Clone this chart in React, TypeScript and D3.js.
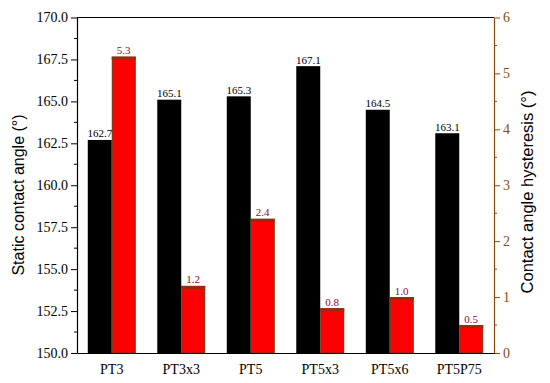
import React, { useEffect, useRef } from 'react';
import * as d3 from 'd3';

const categories = ['PT3', 'PT3x3', 'PT5', 'PT5x3', 'PT5x6', 'PT5P75'];
const staticAngle = [162.7, 165.1, 165.3, 167.1, 164.5, 163.1];
const hysteresis = [5.3, 1.2, 2.4, 0.8, 1.0, 0.5];
const leftTicks = [150, 152.5, 155, 157.5, 160, 162.5, 165, 167.5, 170];
const rightTicks = [0, 1, 2, 3, 4, 5, 6];

const BROWN = '#8B4A13';
const SERIF = "'Liberation Serif', 'Times New Roman', Times, serif";
const SANS = "'Liberation Sans', Arial, Helvetica, sans-serif";

const App: React.FC = () => {
  const svgRef = useRef<SVGSVGElement>(null);

  useEffect(() => {
    if (!svgRef.current) return;
    const svg = d3.select(svgRef.current);
    svg.selectAll('*').remove();

    const width = 550;
    const height = 383;
    const margin = { top: 17.5, right: 56, bottom: 30, left: 77 };
    const innerWidth = width - margin.left - margin.right;
    const innerHeight = height - margin.top - margin.bottom;

    const x = d3.scaleBand<string>().domain(categories).range([0, innerWidth]).paddingInner(0.31).paddingOuter(0.155);
    const sub = d3.scaleBand<string>().domain(['a', 'h']).range([0, x.bandwidth()]);
    const yL = d3.scaleLinear().domain([150, 170]).range([innerHeight, 0]);
    const yR = d3.scaleLinear().domain([0, 6]).range([innerHeight, 0]);

    const g = svg.append('g').attr('transform', `translate(${margin.left},${margin.top})`);

    // black bars (static contact angle)
    g.selectAll('rect.static')
      .data(categories)
      .join('rect')
      .attr('class', 'static')
      .attr('x', d => (x(d) ?? 0) + (sub('a') ?? 0))
      .attr('y', (d, i) => yL(staticAngle[i]))
      .attr('width', sub.bandwidth())
      .attr('height', (d, i) => innerHeight - yL(staticAngle[i]))
      .attr('fill', '#000');

    // red bars (hysteresis)
    g.selectAll('rect.hyst')
      .data(categories)
      .join('rect')
      .attr('class', 'hyst')
      .attr('x', d => (x(d) ?? 0) + (sub('h') ?? 0) + 0.5)
      .attr('y', (d, i) => yR(hysteresis[i]) + 0.5)
      .attr('width', sub.bandwidth() - 1)
      .attr('height', (d, i) => innerHeight - yR(hysteresis[i]) - 0.5)
      .attr('fill', '#ff0000')
      .attr('stroke', '#6e3010')
      .attr('stroke-width', 1);

    // darker top edge on red bars
    g.selectAll('rect.strip')
      .data(categories)
      .join('rect')
      .attr('class', 'strip')
      .attr('x', d => (x(d) ?? 0) + (sub('h') ?? 0))
      .attr('y', (d, i) => yR(hysteresis[i]))
      .attr('width', sub.bandwidth())
      .attr('height', 3)
      .attr('fill', '#9a2a0a');

    // value labels
    g.selectAll('text.vs')
      .data(categories)
      .join('text')
      .attr('class', 'vs')
      .attr('x', d => (x(d) ?? 0) + (sub('a') ?? 0) + sub.bandwidth() / 2)
      .attr('y', (d, i) => yL(staticAngle[i]) - 2.5)
      .attr('text-anchor', 'middle')
      .style('font-family', SERIF)
      .style('font-size', '11px')
      .attr('fill', '#000')
      .text((d, i) => staticAngle[i].toFixed(1));

    g.selectAll('text.vh')
      .data(categories)
      .join('text')
      .attr('class', 'vh')
      .attr('x', d => (x(d) ?? 0) + (sub('h') ?? 0) + sub.bandwidth() / 2)
      .attr('y', (d, i) => yR(hysteresis[i]) - 2.5)
      .attr('text-anchor', 'middle')
      .style('font-family', SERIF)
      .style('font-size', '11px')
      .attr('fill', '#8a0a2a')
      .text((d, i) => hysteresis[i].toFixed(1));

    // left axis
    const leftMinor = d3.range(151.25, 170, 2.5);
    const left = g.append('g');
    left.call(
      d3.axisLeft(yL).tickValues(leftTicks).tickSize(6).tickSizeOuter(0).tickFormat(d => (d as number).toFixed(1))
    );
    left.attr('font-family', null).attr('font-size', null);
    left.selectAll('text').style('font-family', SERIF).style('font-size', '14px').attr('fill', '#000').attr('x', -9);
    left.select('.domain').attr('stroke', '#000').attr('stroke-width', 1.2);
    left.selectAll('.tick line').attr('stroke', '#000');
    leftMinor.forEach(v => {
      left.append('line').attr('x1', -3).attr('x2', 0).attr('y1', yL(v)).attr('y2', yL(v)).attr('stroke', '#000');
    });

    // right axis
    const rightMinor = d3.range(0.5, 6, 1);
    const right = g.append('g').attr('transform', `translate(${innerWidth},0)`);
    right.call(d3.axisRight(yR).tickValues(rightTicks).tickSize(6).tickSizeOuter(0).tickFormat(d3.format('d')));
    right.attr('font-family', null).attr('font-size', null);
    right.selectAll('text').style('font-family', SERIF).style('font-size', '14px').attr('fill', BROWN).attr('x', 9);
    right.select('.domain').attr('stroke', BROWN).attr('stroke-width', 1.2);
    right.selectAll('.tick line').attr('stroke', BROWN);
    rightMinor.forEach(v => {
      right.append('line').attr('x1', 0).attr('x2', 3).attr('y1', yR(v)).attr('y2', yR(v)).attr('stroke', BROWN);
    });

    // bottom axis
    const bottom = g.append('g').attr('transform', `translate(0,${innerHeight})`);
    bottom.call(d3.axisBottom(x).tickSize(0).tickSizeOuter(0));
    bottom.attr('font-family', null).attr('font-size', null);
    bottom.selectAll('text').style('font-family', SERIF).style('font-size', '14px').attr('fill', '#000').attr('y', 11);
    bottom.select('.domain').attr('stroke', '#000').attr('stroke-width', 1.2);

    // top frame
    g.append('line')
      .attr('x1', 0)
      .attr('x2', innerWidth)
      .attr('y1', 0)
      .attr('y2', 0)
      .attr('stroke', '#000')
      .attr('stroke-width', 1.2);

    // axis titles
    svg.append('text')
      .attr('transform', 'translate(24,195) rotate(-90)')
      .attr('text-anchor', 'middle')
      .style('font-family', SANS)
      .style('font-size', '16px')
      .attr('fill', '#000')
      .text('Static contact angle (°)');

    svg.append('text')
      .attr('transform', 'translate(533,192) rotate(-90)')
      .attr('text-anchor', 'middle')
      .style('font-family', SANS)
      .style('font-size', '16.5px')
      .attr('fill', '#000')
      .text('Contact angle hysteresis (°)');
  }, []);

  return (
    <svg
      ref={svgRef}
      width={550}
      height={383}
      style={{ position: 'absolute', left: 0, top: 0, background: '#fff' }}
    />
  );
};

export default App;
